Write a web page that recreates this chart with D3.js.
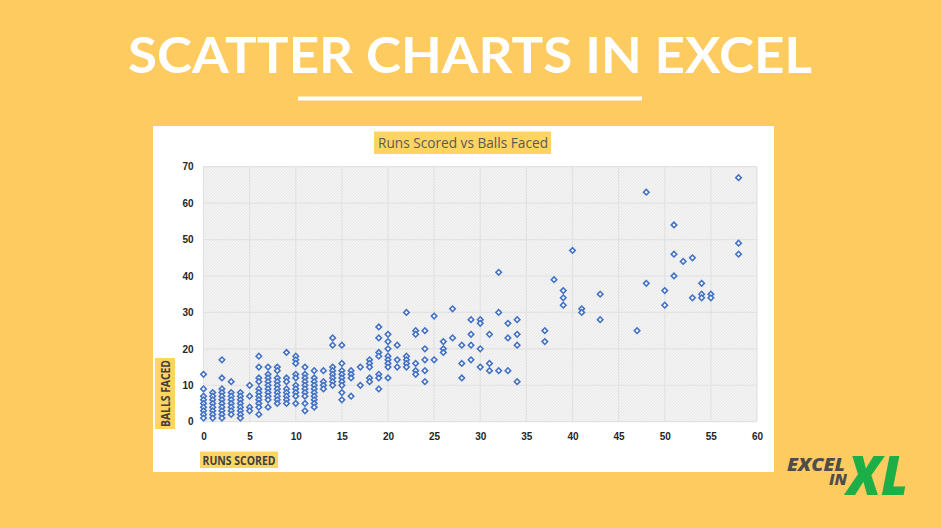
<!DOCTYPE html>
<html>
<head>
<meta charset="utf-8">
<script src="https://cdn.jsdelivr.net/npm/d3@7"></script>
<style>
html,body{margin:0;padding:0;background:#FDCB5F;overflow:hidden;}
svg{display:block;}
</style>
</head>
<body>
<svg id="chart" width="941" height="528"></svg>
<script>
// ---- data ----
const pageTitle = "SCATTER CHARTS IN EXCEL";
const chartTitle = "Runs Scored vs Balls Faced";
const xAxisTitle = "RUNS SCORED";
const yAxisTitle = "BALLS FACED";
const xTicks = [0,5,10,15,20,25,30,35,40,45,50,55,60];
const yTicks = [0,10,20,30,40,50,60,70];
const runs = [0,1,2,3,4,5,6,7,8,9,10,11,12,13,14,15,16,17,18,19,20,21,22,23,24,25,26,27,28,29,30,31,32,33,34,37,38,39,40,41,43,47,48,50,51,52,53,54,55,58];
const balls = [
  [13,9,7,6,5,4,3,2,1],
  [8,7,6,5,4,3,2,1],
  [17,12,9,8,7,6,5,4,3,2,1],
  [11,8,7,6,5,4,3,2],
  [8,7,6,5,4,3,2,1],
  [10,7,4,3],
  [18,15,12,11,9,8,7,6,5,4,2],
  [15,13,12,11,10,9,8,7,6,4],
  [15,14,12,11,10,9,8,7,6,5],
  [19,12,11,9,8,7,6,5],
  [18,17,16,13,12,10,9,8,7,5],
  [15,13,12,11,10,9,8,7,5,3],
  [14,12,11,10,9,8,7,6,5,4],
  [14,11,10,9],
  [23,21,15,14,13,12,11,10],
  [21,16,14,13,12,11,10,8,6],
  [14,13,12,7],
  [15,10],
  [17,16,15,12,11],
  [26,23,19,18,13,12,9],
  [24,22,20,18,17,16,15,12],
  [21,17,15],
  [30,18,17,16,15],
  [25,24,16,14,13],
  [25,20,17,14,11],
  [29,17],
  [22,20,19],
  [31,23],
  [21,16,12],
  [28,24,21,17],
  [28,27,20,15],
  [24,16,14],
  [41,30,14],
  [27,23,14],
  [28,24,21,11],
  [25,22],
  [39],
  [36,34,32],
  [47],
  [31,30],
  [35,28],
  [25],
  [63,38],
  [36,32],
  [54,46,40],
  [44],
  [45,34],
  [38,35,34],
  [35,34],
  [67,49,46]
];

// ---- drawing ----
const svg = d3.select("#chart");
const defs = svg.append("defs");
const pat = defs.append("pattern").attr("id","hatch").attr("patternUnits","userSpaceOnUse")
  .attr("width",3).attr("height",3);
pat.append("rect").attr("width",3).attr("height",3).attr("fill","#f3f3f3");
pat.append("path").attr("d","M0,3 L3,0").attr("stroke","#e6e6e6").attr("stroke-width",0.8);

// page title
svg.append("text").attr("x",470).attr("y",73).attr("text-anchor","middle")
  .attr("font-family","Lato, 'Open Sans', sans-serif").attr("font-weight",700)
  .attr("font-size",50).attr("fill","#ffffff")
  .attr("textLength",684).attr("lengthAdjust","spacingAndGlyphs")
  .text(pageTitle);
svg.append("rect").attr("x",298).attr("y",96.5).attr("width",344).attr("height",4).attr("fill","#ffffff");

// white chart box
svg.append("rect").attr("x",153).attr("y",126).attr("width",621).attr("height",346).attr("fill","#ffffff");

const x = d3.scaleLinear().domain([0,60]).range([203.5,757]);
const y = d3.scaleLinear().domain([0,70]).range([421.7,166.7]);

// plot area
svg.append("rect").attr("x",x(0)).attr("y",y(70)).attr("width",x(60)-x(0)).attr("height",y(0)-y(70))
  .attr("fill","url(#hatch)");
const grid = svg.append("g");
grid.selectAll("line.v").data(xTicks).join("line").attr("class","v")
  .attr("x1",d=>x(d)).attr("x2",d=>x(d)).attr("y1",y(70)).attr("y2",y(0))
  .attr("stroke","#e2e2e2").attr("stroke-width",1.2);
grid.selectAll("line.h").data(yTicks).join("line").attr("class","h")
  .attr("y1",d=>y(d)).attr("y2",d=>y(d)).attr("x1",x(0)).attr("x2",x(60))
  .attr("stroke","#e2e2e2").attr("stroke-width",1.2);

// axes (labels only)
const xAxis = svg.append("g").attr("transform",`translate(0,${y(0)+7})`)
  .call(d3.axisBottom(x).tickValues(xTicks).tickSize(0).tickPadding(4));
const yAxis = svg.append("g").attr("transform",`translate(${x(0)-10},0)`)
  .call(d3.axisLeft(y).tickValues(yTicks).tickSize(0).tickPadding(0));
[xAxis,yAxis].forEach(a=>{
  a.select(".domain").remove();
  a.selectAll("text").attr("font-family","'Liberation Sans', Arial, sans-serif")
    .attr("font-weight",700).attr("font-size",10).attr("fill","#262626");
});

// points
const pts = [];
runs.forEach((r,i)=>balls[i].forEach(b=>pts.push([r,b])));
const sym = d3.symbol().type(d3.symbolSquare).size(15);
svg.append("g").selectAll("path").data(pts).join("path")
  .attr("d",sym)
  .attr("transform",d=>`translate(${x(d[0])},${y(d[1])}) rotate(45)`)
  .attr("fill","#ffffff").attr("stroke","#4472C4").attr("stroke-width",1.6);

// chart title
svg.append("rect").attr("x",374).attr("y",131.5).attr("width",177).attr("height",22.5).attr("fill","#FFD461");
svg.append("text").attr("x",463).attr("y",148).attr("text-anchor","middle")
  .attr("font-family","'Open Sans', sans-serif").attr("font-size",14.5).attr("fill","#595959")
  .attr("textLength",170).attr("lengthAdjust","spacingAndGlyphs").text(chartTitle);

// axis titles
svg.append("rect").attr("x",200).attr("y",451.5).attr("width",78).attr("height",16.5).attr("fill","#FFD461");
svg.append("text").attr("x",239).attr("y",464.5).attr("text-anchor","middle")
  .attr("font-family","'Open Sans', sans-serif").attr("font-weight",700).attr("font-size",12.5).attr("fill","#404040")
  .attr("textLength",73).attr("lengthAdjust","spacingAndGlyphs").text(xAxisTitle);
svg.append("rect").attr("x",155).attr("y",358).attr("width",20).attr("height",71).attr("fill","#FFD461");
svg.append("text").attr("transform","translate(169.5,393.5) rotate(-90)").attr("text-anchor","middle")
  .attr("font-family","'Open Sans', sans-serif").attr("font-weight",700).attr("font-size",12.5).attr("fill","#404040")
  .attr("textLength",67).attr("lengthAdjust","spacingAndGlyphs").text(yAxisTitle);

// logo
const logo = svg.append("g");
logo.append("text").attr("x",787).attr("y",471).attr("font-family","'Open Sans', sans-serif")
  .attr("font-weight",800).attr("font-style","italic").attr("font-size",17).attr("fill","#4d4d4d")
  .attr("textLength",58).attr("lengthAdjust","spacingAndGlyphs").text("EXCEL");
logo.append("text").attr("x",829).attr("y",485).attr("font-family","'Open Sans', sans-serif")
  .attr("font-weight",800).attr("font-style","italic").attr("font-size",16).attr("fill","#4d4d4d")
  .attr("textLength",18).attr("lengthAdjust","spacingAndGlyphs").text("IN");
logo.append("text").attr("x",847).attr("y",495).attr("font-family","'Open Sans', sans-serif")
  .attr("font-weight",800).attr("font-style","italic").attr("font-size",54).attr("fill","#1DAE48")
  .attr("textLength",61).attr("lengthAdjust","spacingAndGlyphs").text("XL");
</script>
</body>
</html>
